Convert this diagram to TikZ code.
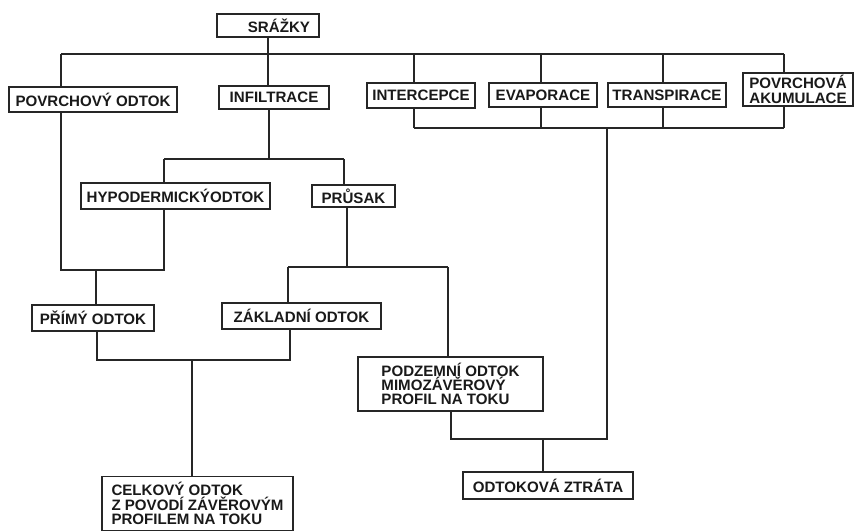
\documentclass[tikz,border=0pt]{standalone}
\usepackage{fontspec}
\setmainfont{Liberation Sans}
\usetikzlibrary{positioning}

\begin{document}
\begin{tikzpicture}[
x=1pt, y=-1pt,
line width=1.3pt,
draw=black!85,
    box/.style={
        rectangle,
        draw=black!85,
        text=black!90,
        inner sep=2pt,
        font=\bfseries\fontsize{15.1}{14.3}\selectfont
    },
    multi/.style={
        box,
        align=left
    }
]
\useasboundingbox (0,0) rectangle (855,531);

\node[box, minimum width=102pt, minimum height=23pt, text width=84pt, align=right, inner xsep=9pt] (srazky) at (268,25.5) {SRÁŽKY};

\node[box, minimum width=168pt, minimum height=25pt] (povrch)      at (93,99.5)  {POVRCHOVÝ ODTOK};
\node[box, minimum width=110pt, minimum height=23pt] (infiltrace)  at (274,97.5) {INFILTRACE};
\node[box, minimum width=108pt, minimum height=25pt] (intercepce)  at (421,95.5) {INTERCEPCE};
\node[box, minimum width=108pt, minimum height=24pt] (evaporace)   at (543,95)   {EVAPORACE};
\node[box, minimum width=118pt, minimum height=24pt] (transpirace) at (667,95)   {TRANSPIRACE};
\node[box, minimum width=110pt, minimum height=33pt, align=center] (akumulace) at (798,89.5) {POVRCHOVÁ\\AKUMULACE};

\node[box, minimum width=189pt, minimum height=26pt] (hypo)     at (175.5,196) {HYPODERMICKÝODTOK};
\node[box, minimum width=83pt,  minimum height=22pt] (prusak)   at (353.5,196) {PRŮSAK};
\node[box, minimum width=122pt, minimum height=26pt] (primy)    at (93,318)    {PŘÍMÝ ODTOK};
\node[box, minimum width=159pt, minimum height=26pt] (zakladni) at (301.5,316)  {ZÁKLADNÍ ODTOK};

\node[multi, minimum width=185pt, minimum height=54pt] (podzemni) at (450.5,384) {PODZEMNÍ ODTOK\\MIMOZÁVĚROVÝ\\PROFIL NA TOKU};
\node[multi, minimum width=191pt, minimum height=54pt] (celkovy)  at (197.5,503.5) {CELKOVÝ ODTOK\\Z POVODÍ ZÁVĚROVÝM\\PROFILEM NA TOKU};
\node[box, minimum width=170pt, minimum height=27pt] (ztrata)  at (548,485.5) {ODTOKOVÁ ZTRÁTA};

% Junctions of the upper buses
\coordinate (topL)  at (61,54);
\coordinate (topR)  at (784,54);
\coordinate (lossL) at (414,128);
\coordinate (lossR) at (784,128);
\coordinate (lossM) at (607,128);

% Precipitation splits into the six components
\draw (srazky.south) -- (srazky.south |- infiltrace.north);
\draw (topL) -- (topR);
\draw (topL) -- (povrch.north -| topL);
\draw (topR) -- (akumulace.north -| topR);
\draw (intercepce.north -| lossL) -- (lossL |- topL);
\draw (evaporace.north -| 541,0) -- (541,54);
\draw (transpirace.north -| 663,0) -- (663,54);

% The losses are gathered below
\draw (lossL) -- (lossR);
\draw (intercepce.south -| lossL) -- (lossL);
\draw (evaporace.south -| 541,0) -- (541,128);
\draw (transpirace.south -| 663,0) -- (663,128);
\draw (akumulace.south -| lossR) -- (lossR);

% Infiltration
\draw (infiltrace.south -| 269,0) -- (269,159);
\draw (164,159) -- (344,159);
\draw (164,159) -- (hypo.north -| 164,0);
\draw (344,159) -- (prusak.north -| 344,0);

% Direct runoff
\draw (povrch.south -| topL) -- (61,270) -- (164,270) -- (hypo.south -| 164,0);
\draw (96,270) -- (primy.north -| 96,0);

% Percolation
\draw (prusak.south -| 347,0) -- (347,267);
\draw (288,267) -- (448,267);
\draw (288,267) -- (zakladni.north -| 288,0);
\draw (448,267) -- (podzemni.north -| 448,0);

% Total runoff
\draw (primy.south -| 97,0) -- (97,360) -- (290,360) -- (zakladni.south -| 290,0);
\draw (192,360) -- (celkovy.north -| 192,0);

% Runoff loss
\draw (podzemni.south -| 451,0) -- (451,439) -- (607,439) -- (lossM);
\draw (543,439) -- (ztrata.north -| 543,0);
\end{tikzpicture}
\end{document}
